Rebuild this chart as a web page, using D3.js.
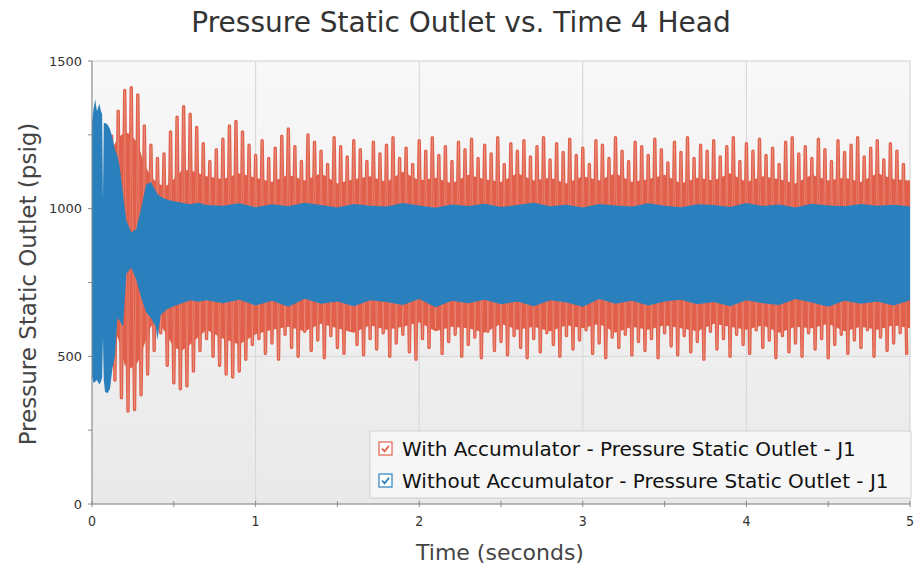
<!DOCTYPE html>
<html>
<head>
<meta charset="utf-8">
<title>Pressure Static Outlet vs. Time 4 Head</title>
<script src="https://d3js.org/d3.v7.min.js"></script>
<style>
  body { margin: 0; background: #fff; font-family: "DejaVu Sans", sans-serif; }
  svg text { fill: #333; }
</style>
</head>
<body>
<svg width="917" height="571"></svg>
<script>
// --- data ---
const xTicks = [0, 1, 2, 3, 4, 5];
const yTicks = [0, 500, 1000, 1500];
const seriesNames = ["With Accumulator - Pressure Static Outlet - J1",
                     "Without Accumulator - Pressure Static Outlet - J1"];

// without accumulator: dense oscillation, drawn as its envelope (min / max)
const blueT = [0, 0.01, 0.02, 0.03, 0.045, 0.055, 0.062, 0.067, 0.072, 0.08, 0.095, 0.11, 0.125, 0.14,
  0.155, 0.17, 0.19, 0.21, 0.24, 0.27, 0.30, 0.33, 0.36, 0.39, 0.40, 0.42, 0.46, 0.50, 0.55, 0.60, 0.65, 0.70,
  0.8, 0.9, 1.0, 1.1, 1.2, 1.3, 1.4, 1.5, 1.6, 1.7, 1.8, 1.9, 2.0, 2.1, 2.2, 2.3, 2.4, 2.5, 2.6, 2.7,
  2.8, 2.9, 3.0, 3.1, 3.2, 3.3, 3.4, 3.5, 3.6, 3.7, 3.8, 3.9, 4.0, 4.1, 4.2, 4.3, 4.4, 4.5, 4.6, 4.7,
  4.8, 4.9, 5.0];
const blueTop = [1290, 1340, 1370, 1330, 1355, 1330, 1320, 1030, 1290, 1290, 1285, 1270, 1240, 1200,
  1180, 1140, 1050, 960, 920, 930, 1000, 1080, 1090, 1060, 1050, 1040, 1030, 1025, 1020, 1015, 1020, 1012,
  1010, 1018, 1005, 1015, 1008, 1020, 1012, 1004, 1016, 1010, 1007, 1019, 1011, 1003, 1014, 1009, 1017, 1006,
  1012, 1020, 1008, 1013, 1004, 1016, 1011, 1007, 1018, 1010, 1005, 1015, 1012, 1006, 1019, 1009, 1014, 1004,
  1017, 1011, 1008, 1016, 1010, 1013, 1007];
const blueBot = [430, 410, 415, 420, 405, 415, 430, 565, 420, 380, 375, 390, 460, 500,
  630, 620, 600, 780, 800, 760, 700, 650, 630, 600, 555, 640, 660, 670, 680, 690, 685, 690,
  680, 692, 672, 688, 668, 695, 678, 686, 670, 690, 684, 674, 694, 666, 688, 680, 692, 676,
  686, 670, 690, 682, 668, 694, 678, 688, 672, 686, 692, 676, 684, 670, 690, 680, 674, 694,
  682, 668, 688, 678, 686, 672, 690];

// with accumulator: solid core of the oscillation
const redBandT = [0.12, 0.16, 0.2, 0.24, 0.28, 0.32, 0.36, 0.4, 0.45, 0.5, 0.55, 0.6, 0.7, 0.8, 0.9,
  1.0, 1.1, 1.2, 1.3, 1.4, 1.5, 1.6, 1.7, 1.8, 1.9, 2.0, 2.1, 2.2, 2.3, 2.4, 2.5, 2.6, 2.7, 2.8, 2.9,
  3.0, 3.1, 3.2, 3.3, 3.4, 3.5, 3.6, 3.7, 3.8, 3.9, 4.0, 4.1, 4.2, 4.3, 4.4, 4.5, 4.6, 4.7, 4.8, 4.9, 5.0];
const redBandTop = [1200, 1240, 1260, 1250, 1220, 1150, 1110, 1085, 1075, 1100, 1130, 1130, 1110, 1100, 1120,
  1105, 1090, 1115, 1095, 1120, 1085, 1100, 1110, 1090, 1125, 1095, 1105, 1085, 1115, 1100, 1090, 1120,
  1095, 1105, 1085, 1110, 1095, 1120, 1090, 1100, 1115, 1085, 1105, 1095, 1120, 1090, 1110, 1100, 1085,
  1115, 1095, 1105, 1090, 1120, 1100, 1095];
const redBandBot = [600, 560, 470, 460, 480, 540, 600, 620, 580, 530, 520, 540, 590, 560, 540,
  575, 590, 600, 585, 610, 595, 580, 605, 590, 600, 615, 585, 600, 595, 580, 610, 590,
  600, 585, 605, 595, 610, 580, 600, 590, 605, 595, 585, 610, 600, 590, 605, 580, 600,
  595, 610, 585, 600, 590, 605, 595];

// with accumulator: spike tops and bottoms, one pair every 0.04 s from 0.12 s
const redStart = 0.12, redStep = 0.04;
const redPeaks = [1250, 1330, 1400, 1410, 1385, 1280, 1215, 1170, 1185, 1260, 1310, 1345, 1320, 1275,
  1220, 1160, 1200, 1235, 1280, 1295, 1260, 1215,
  1180, 1230, 1170, 1205, 1245, 1270, 1210, 1160, 1250, 1225,
  1195, 1150, 1240, 1210, 1175, 1230, 1200, 1160, 1225, 1185,
  1215, 1240, 1170, 1205, 1150, 1230, 1195, 1240, 1180, 1210,
  1160, 1225, 1200, 1235, 1170, 1215, 1185, 1240, 1150, 1220,
  1195, 1230, 1175, 1210, 1240, 1165, 1220, 1190, 1235, 1180,
  1205, 1150, 1230, 1215, 1170, 1240, 1195, 1160, 1225, 1210,
  1180, 1235, 1200, 1155, 1225, 1190, 1240, 1170, 1215, 1195,
  1230, 1175, 1210, 1240, 1160, 1220, 1195, 1235, 1180, 1205,
  1150, 1225, 1240, 1185, 1210, 1170, 1235, 1200, 1160, 1230,
  1190, 1215, 1240, 1175, 1205, 1230, 1165, 1220, 1195, 1150];
const redTroughs = [420, 360, 315, 320, 370, 440, 520, 580, 470, 410, 390, 400, 450, 520,
  560, 500, 470, 440, 430, 450, 490, 540,
  560, 510, 545, 490, 575, 530, 500, 585, 520, 555,
  495, 570, 530, 510, 590, 540, 505, 560, 525, 580,
  500, 545, 575, 515, 490, 560, 530, 595, 510, 550,
  575, 500, 540, 565, 495, 585, 520, 550, 505, 570,
  530, 495, 560, 515, 580, 540, 500, 570, 525, 555,
  590, 510, 545, 495, 565, 530, 575, 505, 550, 520,
  560, 495, 580, 535, 505, 570, 515, 550, 490, 585,
  525, 560, 500, 575, 540, 510, 590, 530, 555, 495,
  570, 515, 545, 500, 580, 525, 560, 495, 540, 575,
  510, 555, 530, 590, 500, 565, 520, 545, 580, 505];

const red = "#e1604b", redLight = "#f2b2a4", blue = "#2a80bd";

// --- layout ---
const svg = d3.select("svg");
const m = { left: 92, right: 910, top: 61, bottom: 504 };
const x = d3.scaleLinear().domain([0, 5]).range([m.left, m.right]);
const y = d3.scaleLinear().domain([0, 1500]).range([m.bottom, m.top]);

const defs = svg.append("defs");
const grad = defs.append("linearGradient").attr("id", "bg").attr("x1", 0).attr("x2", 0).attr("y1", 0).attr("y2", 1);
grad.append("stop").attr("offset", "0%").attr("stop-color", "#f8f8f8");
grad.append("stop").attr("offset", "100%").attr("stop-color", "#e9e9e9");
defs.append("clipPath").attr("id", "clip").append("rect")
  .attr("x", m.left).attr("y", m.top).attr("width", m.right - m.left).attr("height", m.bottom - m.top);

svg.append("rect").attr("x", m.left).attr("y", m.top)
  .attr("width", m.right - m.left).attr("height", m.bottom - m.top)
  .attr("fill", "url(#bg)").attr("stroke", "#cfcfcf");

// grid
svg.append("g").selectAll("line").data(xTicks.slice(1, -1)).join("line")
  .attr("x1", d => x(d)).attr("x2", d => x(d)).attr("y1", m.top).attr("y2", m.bottom)
  .attr("stroke", "#d6d6d6");
svg.append("g").selectAll("line").data(yTicks.slice(1, -1)).join("line")
  .attr("x1", m.left).attr("x2", m.right).attr("y1", d => y(d)).attr("y2", d => y(d))
  .attr("stroke", "#d6d6d6");

// series
const plot = svg.append("g").attr("clip-path", "url(#clip)");

const bandArea = d3.area().x(d => x(d[0])).y0(d => y(d[2])).y1(d => y(d[1]));
plot.append("path")
  .datum(redBandT.map((t, i) => [t, redBandTop[i], redBandBot[i]]))
  .attr("d", bandArea).attr("fill", red);

const redPts = [];
redPeaks.forEach((p, i) => {
  const t = redStart + i * redStep;
  redPts.push([t, p]);
  redPts.push([t + redStep / 2, redTroughs[i]]);
});
const redLine = d3.line().x(d => x(d[0])).y(d => y(d[1]));
plot.append("path").datum(redPts).attr("d", redLine)
  .attr("fill", "none").attr("stroke", red).attr("stroke-width", 3.4).attr("stroke-linejoin", "round");
plot.append("path").datum(redPts).attr("d", redLine)
  .attr("fill", "none").attr("stroke", redLight).attr("stroke-width", 0.7).attr("opacity", 0.5);

plot.append("path")
  .datum(blueT.map((t, i) => [t, blueTop[i], blueBot[i]]))
  .attr("d", bandArea).attr("fill", blue);

// axes
svg.append("line").attr("x1", m.left).attr("x2", m.left).attr("y1", m.top).attr("y2", m.bottom)
  .attr("stroke", "#8a8a8a");
svg.append("line").attr("x1", m.left).attr("x2", m.right).attr("y1", m.bottom).attr("y2", m.bottom)
  .attr("stroke", "#8a8a8a");

svg.append("g").selectAll("line").data(d3.range(0, 1501, 250)).join("line")
  .attr("x1", m.left - 4).attr("x2", m.left).attr("y1", d => y(d)).attr("y2", d => y(d))
  .attr("stroke", "#8a8a8a");
svg.append("g").selectAll("line").data(d3.range(0, 5.01, 0.5)).join("line")
  .attr("x1", d => x(d)).attr("x2", d => x(d)).attr("y1", m.bottom - 3).attr("y2", m.bottom + 3)
  .attr("stroke", "#8a8a8a");

svg.append("g").selectAll("text").data(yTicks).join("text")
  .attr("x", m.left - 10).attr("y", d => y(d)).attr("dy", "0.35em")
  .attr("text-anchor", "end").attr("font-size", 13).text(d => d);
svg.append("g").selectAll("text").data(xTicks).join("text")
  .attr("x", d => x(d)).attr("y", 526).attr("text-anchor", "middle")
  .style("font-family", "'DejaVu Sans Condensed', sans-serif")
  .attr("font-size", 14).text(d => d);

// titles
svg.append("text").attr("x", 461).attr("y", 32).attr("text-anchor", "middle")
  .attr("font-size", 28).text("Pressure Static Outlet vs. Time 4 Head");
svg.append("text").attr("x", 500).attr("y", 560).attr("text-anchor", "middle")
  .attr("font-size", 22).style("fill", "#444").text("Time (seconds)");
svg.append("text").attr("transform", "translate(36,284) rotate(-90)").attr("text-anchor", "middle")
  .attr("font-size", 23).style("fill", "#444").text("Pressure Static Outlet (psig)");

// legend
const lg = svg.append("g");
lg.append("rect").attr("x", 370).attr("y", 431).attr("width", 541).attr("height", 67)
  .attr("fill", "#f7f7f7").attr("fill-opacity", 0.95).attr("stroke", "#cfcfcf");
const lgColors = [red, blue];
seriesNames.forEach((name, i) => {
  const cy = 449 + i * 32;
  const g = lg.append("g").attr("transform", `translate(379,${cy - 7})`);
  g.append("rect").attr("width", 13).attr("height", 13).attr("fill", "#fff")
    .attr("stroke", lgColors[i]).attr("stroke-width", 1.2);
  g.append("path").attr("d", "M3,6.5 L5.6,9.3 L10,3.8").attr("fill", "none")
    .attr("stroke", lgColors[i]).attr("stroke-width", 1.8);
  lg.append("text").attr("x", 402).attr("y", cy).attr("dy", "0.35em")
    .attr("font-size", 20).style("fill", "#111").text(name);
});
</script>
</body>
</html>
